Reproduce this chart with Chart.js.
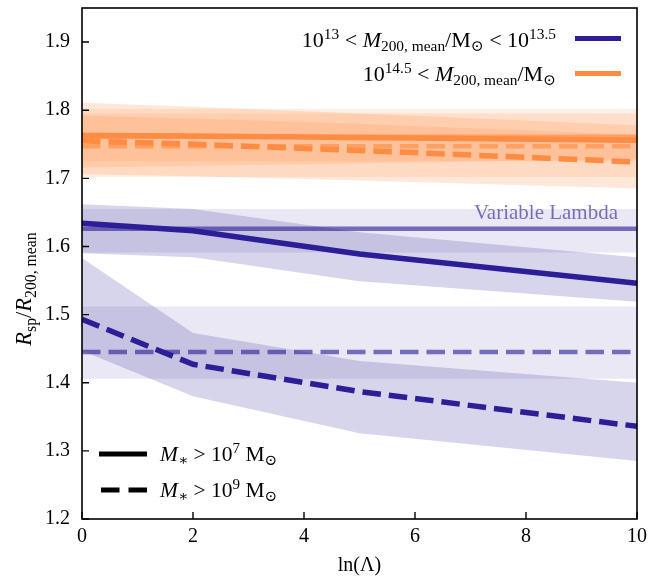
<!DOCTYPE html>
<html>
<head>
<meta charset="utf-8">
<script src="https://cdn.jsdelivr.net/npm/chart.js@4"></script>
<style>
  html, body { margin: 0; padding: 0; background: #fff; }
  #wrap { width: 662px; height: 581px; position: relative; }
</style>
</head>
<body>
<div id="wrap"><canvas id="c" width="662" height="581"></canvas></div>
<script>
// ---- data ----
const lnLambda = [0, 2, 5, 10];
const vlRange = [0, 10];
const xTicks = [0, 2, 4, 6, 8, 10];
const yTicks = [1.2, 1.3, 1.4, 1.5, 1.6, 1.7, 1.8, 1.9];

// 10^13 < M < 10^13.5 (navy)
const lowSolid       = [1.634, 1.623, 1.589, 1.546];
const lowSolidUpper  = [1.662, 1.655, 1.621, 1.584];
const lowSolidLower  = [1.590, 1.584, 1.549, 1.519];
const lowDashed      = [1.493, 1.427, 1.387, 1.336];
const lowDashedUpper = [1.583, 1.473, 1.432, 1.400];
const lowDashedLower = [1.447, 1.380, 1.326, 1.285];
const lowVLSolid     = [1.626, 1.591, 1.655]; // value, lower, upper
const lowVLDashed    = [1.445, 1.406, 1.512];

// 10^14.5 < M (orange)
const highSolid       = [1.763, 1.762, 1.760, 1.756];
const highSolidUpper  = [1.811, 1.805, 1.795, 1.778];
const highSolidLower  = [1.716, 1.718, 1.722, 1.728];
const highDashed      = [1.755, 1.750, 1.741, 1.724];
const highDashedUpper = [1.792, 1.788, 1.780, 1.764];
const highDashedLower = [1.706, 1.703, 1.697, 1.685];
const highVLSolid     = [1.761, 1.725, 1.795];
const highVLDashed    = [1.747, 1.702, 1.802];

// ---- styles ----
const SERIF = "'Liberation Serif', 'DejaVu Serif', serif";
const NAVY = 'rgb(43,30,150)';
const NAVY_VL = 'rgba(43,30,150,0.62)';
const NAVY_BAND = 'rgba(43,30,150,0.19)';
const NAVY_VLBAND = 'rgba(43,30,150,0.10)';
const ORANGE = 'rgb(255,140,66)';
const ORANGE_VL = 'rgba(255,140,66,0.62)';
const ORANGE_BAND = 'rgba(255,140,66,0.20)';
const ORANGE_VLBAND = 'rgba(255,140,66,0.15)';
const DASH = [18.5, 8];

const pts = (xs, ys) => xs.map((x, i) => ({x: x, y: ys[i]}));
const flat = v => vlRange.map(x => ({x: x, y: v}));

const datasets = [];
function addLine(data, color, width, dash, order) {
  datasets.push({data: data, borderColor: color, borderWidth: width, borderDash: dash || [],
    pointRadius: 0, fill: false, tension: 0, order: order, borderCapStyle: 'butt'});
}
function addBand(upper, lower, color, order) {
  const lowerIdx = datasets.length;
  datasets.push({data: lower, borderColor: 'transparent', borderWidth: 1, pointRadius: 0,
    fill: false, order: order + 1});
  datasets.push({data: upper, borderColor: 'transparent', borderWidth: 1, pointRadius: 0,
    fill: {target: lowerIdx}, backgroundColor: color, order: order});
}

// bands
addBand(flat(lowVLSolid[2]), flat(lowVLSolid[1]), NAVY_VLBAND, 40);
addBand(flat(lowVLDashed[2]), flat(lowVLDashed[1]), NAVY_VLBAND, 40);
addBand(flat(highVLSolid[2]), flat(highVLSolid[1]), ORANGE_VLBAND, 40);
addBand(flat(highVLDashed[2]), flat(highVLDashed[1]), ORANGE_VLBAND, 40);
addBand(pts(lnLambda, lowSolidUpper), pts(lnLambda, lowSolidLower), NAVY_BAND, 30);
addBand(pts(lnLambda, lowDashedUpper), pts(lnLambda, lowDashedLower), NAVY_BAND, 30);
addBand(pts(lnLambda, highSolidUpper), pts(lnLambda, highSolidLower), ORANGE_BAND, 30);
addBand(pts(lnLambda, highDashedUpper), pts(lnLambda, highDashedLower), ORANGE_BAND, 30);
// variable lambda lines
addLine(flat(lowVLSolid[0]), NAVY_VL, 4.5, null, 10);
addLine(flat(lowVLDashed[0]), NAVY_VL, 4.5, DASH, 10);
addLine(flat(highVLSolid[0]), ORANGE_VL, 4.5, null, 10);
addLine(flat(highVLDashed[0]), ORANGE_VL, 4.5, DASH, 10);
// series lines
addLine(pts(lnLambda, lowSolid), NAVY, 5.5, null, 1);
addLine(pts(lnLambda, lowDashed), NAVY, 5.5, DASH, 1);
addLine(pts(lnLambda, highSolid), ORANGE, 5.5, null, 1);
addLine(pts(lnLambda, highDashed), ORANGE, 5.5, DASH, 1);

// ---- rich text helper ----
function richParts(ctx, parts, S) {
  return parts.map(p => {
    const kind = p[1];
    const size = (kind === 'sup' || kind === 'sub') ? S * 0.7 : S;
    const style = (kind === 'i') ? 'italic ' : '';
    const font = style + size + 'px ' + SERIF;
    ctx.font = font;
    const w = ctx.measureText(p[0]).width;
    const dy = kind === 'sup' ? -S * 0.38 : (kind === 'sub' ? S * 0.2 : 0);
    return {t: p[0], font: font, w: w, dy: dy};
  });
}
function drawRich(ctx, parts, S, x, y, align, color) {
  const items = richParts(ctx, parts, S);
  const total = items.reduce((a, b) => a + b.w, 0);
  let cx = align === 'right' ? x - total : (align === 'center' ? x - total / 2 : x);
  ctx.fillStyle = color || '#000';
  ctx.textBaseline = 'alphabetic';
  ctx.textAlign = 'left';
  items.forEach(it => { ctx.font = it.font; ctx.fillText(it.t, cx, y + it.dy); cx += it.w; });
}

const legendRow1 = [['10','n'],['13','sup'],[' < ','n'],['M','i'],['200, mean','sub'],['/M','n'],['\u2299','sub'],[' < 10','n'],['13.5','sup']];
const legendRow2 = [['10','n'],['14.5','sup'],[' < ','n'],['M','i'],['200, mean','sub'],['/M','n'],['\u2299','sub']];
const legendStar7 = [['M','i'],['\u2217','sub'],[' > 10','n'],['7','sup'],[' M','n'],['\u2299','sub']];
const legendStar9 = [['M','i'],['\u2217','sub'],[' > 10','n'],['9','sup'],[' M','n'],['\u2299','sub']];
const yTitle = [['R','i'],['sp','sub'],['/','n'],['R','i'],['200, mean','sub']];

const decor = {
  id: 'decor',
  afterDraw(chart) {
    const ctx = chart.ctx;
    const a = chart.chartArea;
    const xs = chart.scales.x, ys = chart.scales.y;
    ctx.save();
    // frame
    ctx.strokeStyle = '#000';
    ctx.lineWidth = 1.6;
    ctx.setLineDash([]);
    ctx.strokeRect(a.left, a.top, a.right - a.left, a.bottom - a.top);
    // inward ticks
    ctx.lineWidth = 1.4;
    ctx.beginPath();
    xs.ticks.forEach(t => { const px = xs.getPixelForValue(t.value); ctx.moveTo(px, a.bottom); ctx.lineTo(px, a.bottom - 7); });
    ys.ticks.forEach(t => { const py = ys.getPixelForValue(t.value); ctx.moveTo(a.left, py); ctx.lineTo(a.left + 7, py); });
    ctx.stroke();
    // top legend
    drawRich(ctx, legendRow1, 22, 556, 47, 'right');
    drawRich(ctx, legendRow2, 22, 556, 81, 'right');
    ctx.lineWidth = 5; ctx.lineCap = 'butt';
    ctx.strokeStyle = NAVY;
    ctx.beginPath(); ctx.moveTo(575, 38.5); ctx.lineTo(621, 38.5); ctx.stroke();
    ctx.strokeStyle = ORANGE;
    ctx.beginPath(); ctx.moveTo(575, 73.5); ctx.lineTo(621, 73.5); ctx.stroke();
    // bottom legend
    ctx.strokeStyle = '#000';
    ctx.beginPath(); ctx.moveTo(99, 454); ctx.lineTo(147, 454); ctx.stroke();
    ctx.setLineDash([18.5, 9]);
    ctx.beginPath(); ctx.moveTo(101, 490); ctx.lineTo(147, 490); ctx.stroke();
    ctx.setLineDash([]);
    drawRich(ctx, legendStar7, 21.5, 160, 461);
    drawRich(ctx, legendStar9, 21.5, 160, 497);
    // Variable Lambda label
    ctx.font = '21px ' + SERIF;
    ctx.fillStyle = 'rgba(43,30,150,0.62)';
    ctx.textAlign = 'right';
    ctx.textBaseline = 'alphabetic';
    ctx.fillText('Variable Lambda', 618, 219);
    // y title (rotated)
    ctx.translate(24, 289);
    ctx.rotate(-Math.PI / 2);
    drawRich(ctx, yTitle, 22.5, 0, 7, 'center');
    ctx.restore();
  }
};

new Chart(document.getElementById('c'), {
  type: 'line',
  data: {datasets: datasets},
  options: {
    responsive: false,
    animation: false,
    events: [],
    layout: {padding: {top: 8, right: 25, left: 0, bottom: 0}},
    plugins: {legend: {display: false}, tooltip: {enabled: false}},
    scales: {
      x: {
        type: 'linear', min: 0, max: 10,
        afterFit: s => { s.height = 62; s.paddingLeft = 0; s.paddingRight = 0; },
        afterBuildTicks: s => { s.ticks = xTicks.map(v => ({value: v})); },
        grid: {display: false, drawTicks: false},
        border: {display: false},
        ticks: {color: '#000', font: {family: SERIF, size: 20}, padding: 6, maxRotation: 0,
                callback: v => String(v)},
        title: {display: true, text: 'ln(\u039B)', color: '#000', font: {family: SERIF, size: 20},
                padding: {top: 0, bottom: 3}}
      },
      y: {
        type: 'linear', min: 1.2, max: 1.95,
        afterFit: s => { s.width = 82; s.paddingTop = 0; s.paddingBottom = 0; },
        afterBuildTicks: s => { s.ticks = yTicks.map(v => ({value: v})); },
        grid: {display: false, drawTicks: false},
        border: {display: false},
        ticks: {color: '#000', font: {family: SERIF, size: 20}, padding: 12,
                callback: v => v.toFixed(1)}
      }
    }
  },
  plugins: [decor]
});
</script>
</body>
</html>
